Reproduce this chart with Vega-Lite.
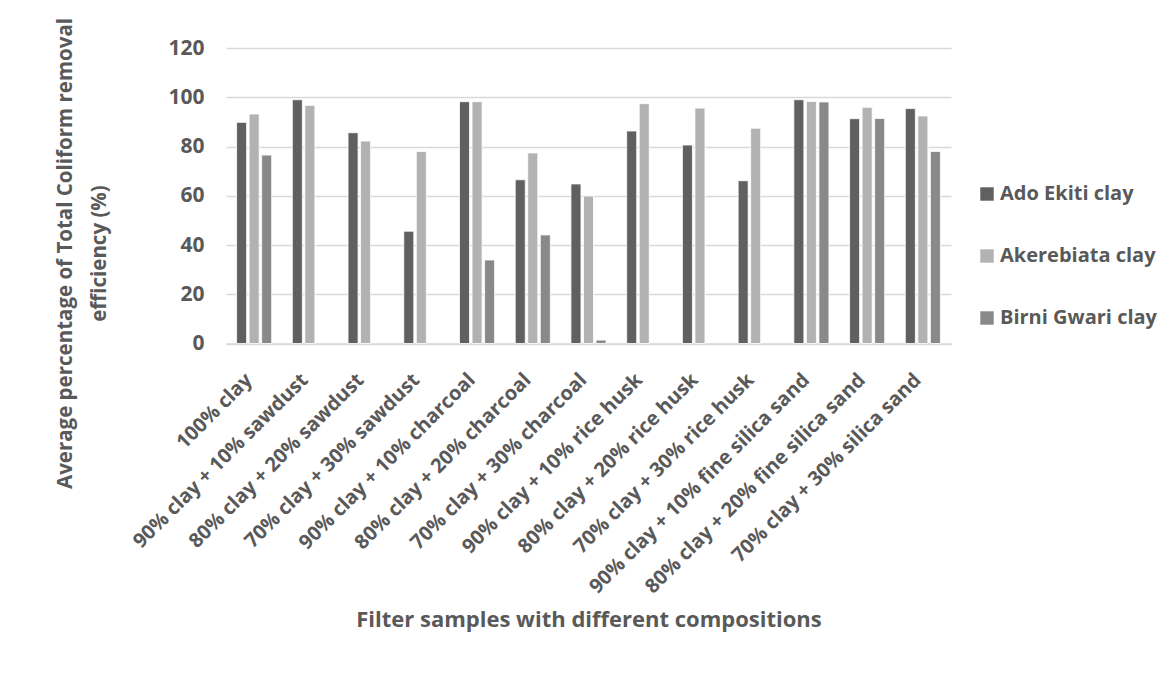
{
  "$schema": "https://vega.github.io/schema/vega-lite/v6.json",
  "width": 725,
  "height": 295.5,
  "autosize": {"type": "none"},
  "padding": {"left": 226, "top": 48, "right": 214, "bottom": 330.5},
  "background": "#ffffff",
  "config": {
    "font": "Open Sans",
    "view": {"stroke": null}
  },
  "data": {
    "values": [
      {"sample": "100% clay", "clay": "Ado Ekiti clay", "value": 89.8},
      {"sample": "100% clay", "clay": "Akerebiata clay", "value": 93.2},
      {"sample": "100% clay", "clay": "Birni Gwari clay", "value": 76.5},
      {"sample": "90% clay + 10% sawdust", "clay": "Ado Ekiti clay", "value": 99.0},
      {"sample": "90% clay + 10% sawdust", "clay": "Akerebiata clay", "value": 96.7},
      {"sample": "80% clay + 20% sawdust", "clay": "Ado Ekiti clay", "value": 85.6},
      {"sample": "80% clay + 20% sawdust", "clay": "Akerebiata clay", "value": 82.2},
      {"sample": "70% clay +  30% sawdust", "clay": "Ado Ekiti clay", "value": 45.6},
      {"sample": "70% clay +  30% sawdust", "clay": "Akerebiata clay", "value": 78.0},
      {"sample": "90% clay + 10% charcoal", "clay": "Ado Ekiti clay", "value": 98.2},
      {"sample": "90% clay + 10% charcoal", "clay": "Akerebiata clay", "value": 98.2},
      {"sample": "90% clay + 10% charcoal", "clay": "Birni Gwari clay", "value": 33.9},
      {"sample": "80% clay + 20% charcoal", "clay": "Ado Ekiti clay", "value": 66.5},
      {"sample": "80% clay + 20% charcoal", "clay": "Akerebiata clay", "value": 77.4},
      {"sample": "80% clay + 20% charcoal", "clay": "Birni Gwari clay", "value": 44.1},
      {"sample": "70% clay + 30% charcoal", "clay": "Ado Ekiti clay", "value": 64.8},
      {"sample": "70% clay + 30% charcoal", "clay": "Akerebiata clay", "value": 59.9},
      {"sample": "70% clay + 30% charcoal", "clay": "Birni Gwari clay", "value": 1.4},
      {"sample": "90% clay + 10% rice husk", "clay": "Ado Ekiti clay", "value": 86.3},
      {"sample": "90% clay + 10% rice husk", "clay": "Akerebiata clay", "value": 97.4},
      {"sample": "80% clay + 20% rice husk", "clay": "Ado Ekiti clay", "value": 80.6},
      {"sample": "80% clay + 20% rice husk", "clay": "Akerebiata clay", "value": 95.6},
      {"sample": "70%  clay + 30% rice husk", "clay": "Ado Ekiti clay", "value": 66.1},
      {"sample": "70%  clay + 30% rice husk", "clay": "Akerebiata clay", "value": 87.4},
      {"sample": "90% clay + 10% fine silica sand", "clay": "Ado Ekiti clay", "value": 99.0},
      {"sample": "90% clay + 10% fine silica sand", "clay": "Akerebiata clay", "value": 98.3},
      {"sample": "90% clay + 10% fine silica sand", "clay": "Birni Gwari clay", "value": 98.1},
      {"sample": "80% clay + 20% fine silica sand", "clay": "Ado Ekiti clay", "value": 91.3},
      {"sample": "80% clay + 20% fine silica sand", "clay": "Akerebiata clay", "value": 95.9},
      {"sample": "80% clay + 20% fine silica sand", "clay": "Birni Gwari clay", "value": 91.4},
      {"sample": "70% clay + 30% silica sand", "clay": "Ado Ekiti clay", "value": 95.4},
      {"sample": "70% clay + 30% silica sand", "clay": "Akerebiata clay", "value": 92.4},
      {"sample": "70% clay + 30% silica sand", "clay": "Birni Gwari clay", "value": 78.0}
    ]
  },
  "mark": {"type": "bar", "stroke": "#ffffff", "strokeWidth": 0.8},
  "encoding": {
    "x": {
      "field": "sample",
      "type": "nominal",
      "sort": null,
      "scale": {"paddingInner": 0.37, "paddingOuter": 0.19},
      "axis": {
        "title": "Filter samples with different compositions",
        "titleFont": "Open Sans",
        "titleFontSize": 22,
        "titleFontWeight": "bold",
        "titleColor": "#595959",
        "titleBaseline": "middle",
        "titleY": 276,
        "labelAngle": -45,
        "labelAlign": "right",
        "labelBaseline": "middle",
        "labelFontSize": 20,
        "labelFontWeight": "bold",
        "labelColor": "#595959",
        "labelPadding": 33,
        "labelOffset": -5,
        "labelLimit": 400,
        "ticks": false,
        "domainColor": "#d9d9d9",
        "domainWidth": 1.5
      }
    },
    "xOffset": {
      "field": "clay",
      "type": "nominal",
      "scale": {"domain": ["Ado Ekiti clay", "Akerebiata clay", "Birni Gwari clay"], "paddingInner": 0.2}
    },
    "y": {
      "field": "value",
      "type": "quantitative",
      "scale": {"domain": [0, 120], "nice": false},
      "axis": {
        "values": [0, 20, 40, 60, 80, 100, 120],
        "title": ["Average percentage of Total Coliform removal", "efficiency (%)"],
        "titleFont": "Open Sans",
        "titleFontSize": 20.5,
        "titleFontWeight": "bold",
        "titleColor": "#595959",
        "titleY": 205,
        "titlePadding": 58,
        "titleLineHeight": 34,
        "labelFontSize": 21,
        "labelFontWeight": "bold",
        "labelColor": "#595959",
        "labelPadding": 22,
        "ticks": false,
        "domain": false,
        "gridColor": "#d9d9d9",
        "gridWidth": 1.5
      }
    },
    "color": {
      "field": "clay",
      "type": "nominal",
      "scale": {
        "domain": ["Ado Ekiti clay", "Akerebiata clay", "Birni Gwari clay"],
        "range": ["#606060", "#b2b2b2", "#898989"]
      },
      "legend": {
        "title": null,
        "orient": "none",
        "legendX": 751,
        "legendY": 136,
        "symbolType": "square",
        "symbolSize": 180,
        "symbolStrokeWidth": 0,
        "labelFont": "Open Sans",
        "labelFontSize": 20,
        "labelFontWeight": "bold",
        "labelColor": "#595959",
        "labelOffset": 3,
        "labelLimit": 300,
        "rowPadding": 42
      }
    }
  }
}
